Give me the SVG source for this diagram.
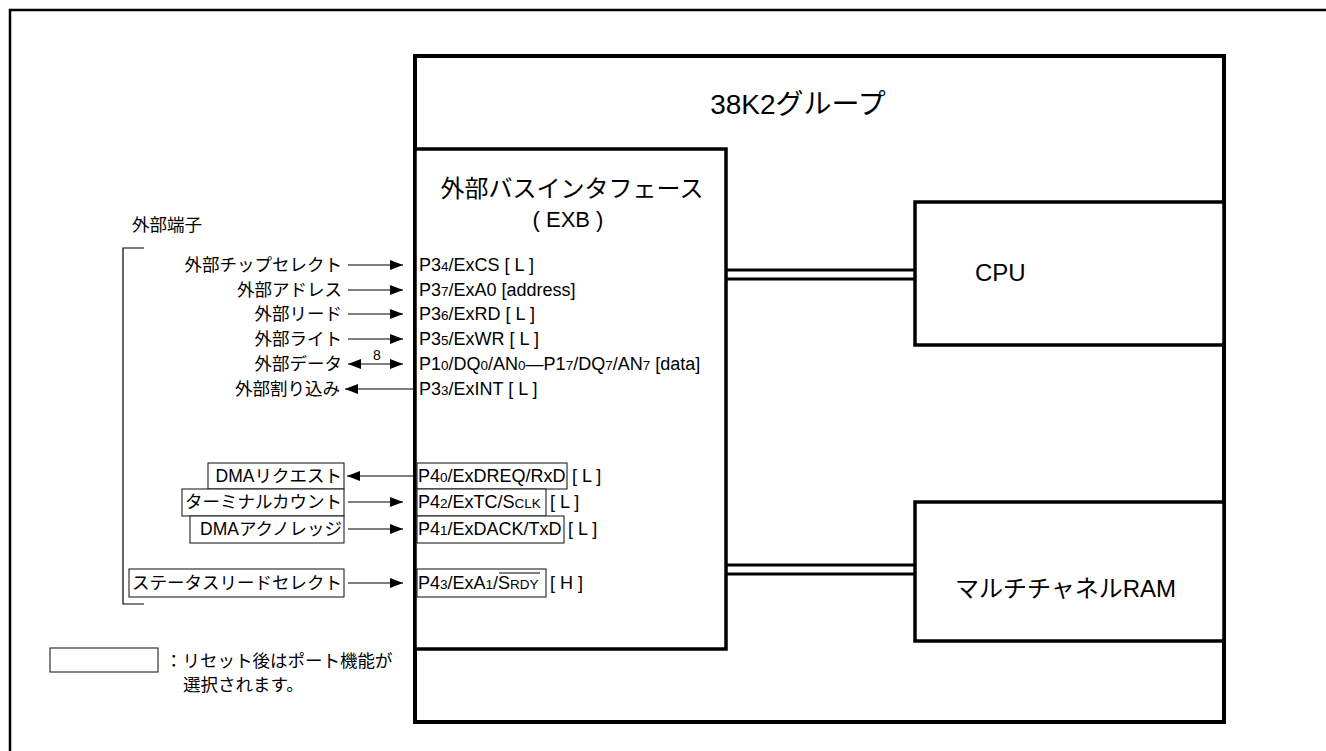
<svg xmlns="http://www.w3.org/2000/svg" width="1326" height="751" viewBox="0 0 1326 751">
<defs>
<style>
.frame{fill:none;stroke:#000;stroke-width:2.5}
.blk{fill:#fff;stroke:#000;stroke-width:4}
.blk2{fill:#fff;stroke:#000;stroke-width:3.5}
.bus{stroke:#000;stroke-width:3;fill:none}
.ln{stroke:#000;stroke-width:1.2;fill:none}
.lbox{fill:#fff;stroke:#222;stroke-width:1.1}
.jp{font-family:"Liberation Sans","Noto Sans CJK JP",sans-serif;font-size:17.5px;fill:#000}
.pin{font-family:"Liberation Sans","Noto Sans CJK JP",sans-serif;font-size:18px;fill:#000}
.sub{font-size:13.5px}
.r{text-anchor:end}
.c{text-anchor:middle}
</style>
<marker id="ah" viewBox="0 0 13 10" refX="13" refY="5" markerWidth="13" markerHeight="10" markerUnits="userSpaceOnUse" orient="auto-start-reverse">
<path d="M0,0 L13,5 L0,10 Z" fill="#000"/>
</marker>
</defs>
<rect class="frame" x="10" y="10" width="1340" height="760"/>
<g id="chip">
<rect class="blk" x="415" y="56" width="809" height="666"/>
<text class="jp c" x="798" y="114" style="font-size:28px">38K2グループ</text>
</g>
<g id="exb">
<rect class="blk2" x="415" y="149" width="311" height="500"/>
<text class="jp c" x="572" y="197" style="font-size:24px">外部バスインタフェース</text>
<text class="jp c" x="568" y="227" style="font-size:22px">( EXB )</text>
</g>
<g id="cpu">
<rect class="blk2" x="915" y="202" width="309" height="143"/>
<text class="jp" x="975" y="281" style="font-size:24px">CPU</text>
</g>
<g id="ram">
<rect class="blk2" x="915" y="502" width="309" height="139"/>
<text class="jp" x="955" y="597" style="font-size:24px">マルチチャネルRAM</text>
</g>
<g id="connectors">
<line class="bus" x1="726" y1="270" x2="915" y2="270"/>
<line class="bus" x1="726" y1="279" x2="915" y2="279"/>
<line class="bus" x1="726" y1="565" x2="915" y2="565"/>
<line class="bus" x1="726" y1="574" x2="915" y2="574"/>
<line class="ln" x1="348" y1="265" x2="403" y2="265" marker-end="url(#ah)"/>
<line class="ln" x1="348" y1="290" x2="403" y2="290" marker-end="url(#ah)"/>
<line class="ln" x1="348" y1="314" x2="403" y2="314" marker-end="url(#ah)"/>
<line class="ln" x1="348" y1="339" x2="403" y2="339" marker-end="url(#ah)"/>
<line class="ln" x1="348" y1="364" x2="403" y2="364" marker-start="url(#ah)" marker-end="url(#ah)"/>
<line class="ln" x1="345" y1="389" x2="413" y2="389" marker-start="url(#ah)"/>
<line class="ln" x1="347" y1="476" x2="413" y2="476" marker-start="url(#ah)"/>
<line class="ln" x1="348" y1="502" x2="403" y2="502" marker-end="url(#ah)"/>
<line class="ln" x1="348" y1="529" x2="403" y2="529" marker-end="url(#ah)"/>
<line class="ln" x1="348" y1="583" x2="403" y2="583" marker-end="url(#ah)"/>
<text class="pin c" x="377" y="360" style="font-size:14px">8</text>
</g>
<g id="terminals">
<text class="jp" x="132" y="231">外部端子</text>
<path class="ln" d="M144,248 H123 V604 H144"/>
<text class="jp r" x="342" y="271">外部チップセレクト</text>
<text class="jp r" x="342" y="296">外部アドレス</text>
<text class="jp r" x="342" y="320">外部リード</text>
<text class="jp r" x="342" y="345">外部ライト</text>
<text class="jp r" x="342" y="370">外部データ</text>
<text class="jp r" x="340" y="395">外部割り込み</text>
<rect class="lbox" x="208" y="463" width="136" height="26"/>
<text class="jp r" x="342" y="482">DMAリクエスト</text>
<rect class="lbox" x="182" y="489" width="162" height="27"/>
<text class="jp r" x="342" y="508">ターミナルカウント</text>
<rect class="lbox" x="190" y="516" width="154" height="27"/>
<text class="jp r" x="342" y="535">DMAアクノレッジ</text>
<rect class="lbox" x="129" y="569" width="215" height="28"/>
<text class="jp r" x="342" y="589">ステータスリードセレクト</text>
</g>
<g id="pins">
<text class="pin" x="419" y="271">P3<tspan class="sub">4</tspan>/ExCS [ L ]</text>
<text class="pin" x="419" y="296">P3<tspan class="sub">7</tspan>/ExA0 [address]</text>
<text class="pin" x="419" y="320">P3<tspan class="sub">6</tspan>/ExRD [ L ]</text>
<text class="pin" x="419" y="345">P3<tspan class="sub">5</tspan>/ExWR [ L ]</text>
<text class="pin" x="419" y="370">P1<tspan class="sub">0</tspan>/DQ<tspan class="sub">0</tspan>/AN<tspan class="sub">0</tspan>—P1<tspan class="sub">7</tspan>/DQ<tspan class="sub">7</tspan>/AN<tspan class="sub">7</tspan> [data]</text>
<text class="pin" x="419" y="395">P3<tspan class="sub">3</tspan>/ExINT [ L ]</text>
<rect class="lbox" x="417" y="463" width="150" height="26"/>
<text class="pin" x="418" y="482">P4<tspan class="sub">0</tspan>/ExDREQ/RxD</text>
<text class="pin" x="572" y="482">[ L ]</text>
<rect class="lbox" x="417" y="489" width="129" height="27"/>
<text class="pin" x="418" y="508">P4<tspan class="sub">2</tspan>/ExTC/S<tspan class="sub">CLK</tspan></text>
<text class="pin" x="550" y="508">[ L ]</text>
<rect class="lbox" x="417" y="516" width="147" height="27"/>
<text class="pin" x="418" y="535">P4<tspan class="sub">1</tspan>/ExDACK/TxD</text>
<text class="pin" x="568" y="535">[ L ]</text>
<rect class="lbox" x="417" y="569" width="129" height="28"/>
<text class="pin" x="418" y="589">P4<tspan class="sub">3</tspan>/ExA<tspan class="sub">1</tspan>/S<tspan class="sub">RDY</tspan></text>
<line class="ln" x1="499" y1="573" x2="540" y2="573"/>
<text class="pin" x="550" y="589">[ H ]</text>
</g>
<g id="legend">
<rect class="lbox" x="50" y="648" width="108" height="24"/>
<text class="jp" x="165" y="667">：リセット後はポート機能が</text>
<text class="jp" x="183" y="691">選択されます。</text>
</g>
</svg>
